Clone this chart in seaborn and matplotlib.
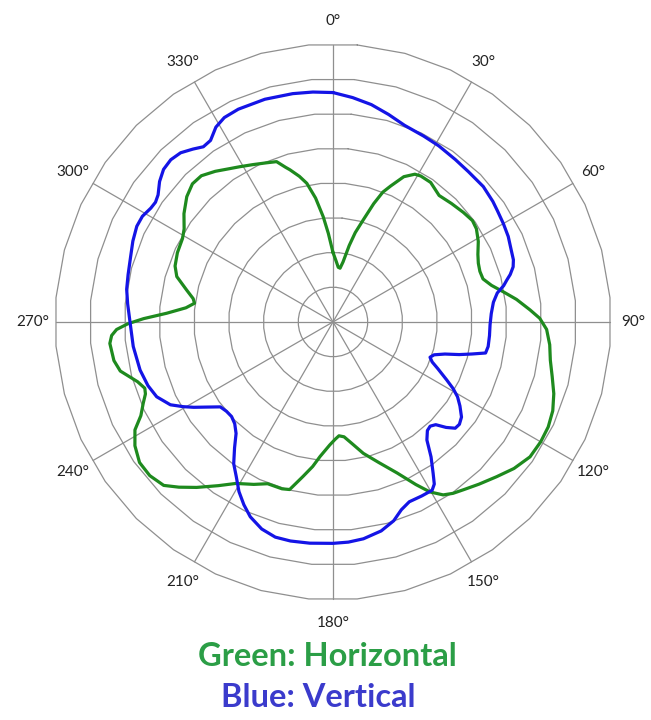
import numpy as np
import matplotlib
matplotlib.use("Agg")
import matplotlib.pyplot as plt
import seaborn as sns

# Radiation pattern: angle (deg, clockwise from top) and radius (ring units 0-8)
blue_deg = [0, 5, 10, 15, 20, 26, 31, 37, 42, 48, 53, 56, 60, 64, 68, 71, 73, 75, 76.5, 78,
            80, 83, 87, 91, 95, 99, 101.5, 103, 104.5, 106, 108, 110, 112, 114, 117, 119, 121,
            123.5, 126.5, 129, 131, 133, 135, 137, 139, 141.5, 144, 146.5, 148, 149.5, 153, 157,
            160, 163, 167, 172, 176, 180, 186, 191, 195, 199, 203, 206, 209, 212, 215, 218, 221,
            224, 227, 230, 233, 236, 238.5, 240.5, 243, 247, 251, 256, 263, 270, 275, 279, 283,
            288, 292, 296, 299, 302, 304, 306, 309, 312, 315, 318, 321, 323.5, 326, 329, 332,
            336, 343, 350, 355, 360]
blue_r = [6.60, 6.48, 6.35, 6.18, 6.02, 5.95, 5.91, 5.85, 5.82, 5.82, 5.76, 5.71, 5.66, 5.61,
          5.53, 5.49, 5.42, 5.28, 5.14, 5.02, 4.80, 4.65, 4.56, 4.52, 4.52, 4.52, 4.48, 4.10,
          3.75, 3.35, 3.06, 2.97, 3.08, 3.30, 3.67, 3.95, 4.18, 4.38, 4.60, 4.68, 4.66, 4.45,
          4.18, 4.10, 4.14, 4.34, 4.80, 5.22, 5.50, 5.62, 5.62, 5.62, 5.75, 5.98, 6.17, 6.30,
          6.35, 6.37, 6.40, 6.42, 6.41, 6.30, 6.09, 5.85, 5.58, 5.25, 4.98, 4.60, 4.25, 4.07,
          3.99, 4.00, 4.06, 4.38, 4.70, 4.95, 5.25, 5.51, 5.63, 5.72, 5.79, 5.84, 5.93, 6.01,
          6.05, 6.12, 6.21, 6.28, 6.27, 6.18, 6.16, 6.22, 6.42, 6.56, 6.60, 6.55, 6.40, 6.27,
          6.30, 6.54, 6.66, 6.70, 6.70, 6.67, 6.64, 6.60]

green_deg = [0, 3, 5.5, 7.5, 9.5, 12, 14, 16.5, 19, 21, 23, 26, 29, 31, 35, 40, 45, 50, 54, 57,
             61, 65, 68, 71, 74, 77, 80, 83, 86.5, 89, 92, 96, 100, 104, 108, 112, 116, 120,
             124.4, 129, 133.4, 138, 142, 145, 147.5, 150.3, 153, 157, 162, 167, 171, 174.5,
             177, 179, 181.5, 185.5, 188, 191, 194.5, 197, 202, 206, 211, 215, 219.5, 223, 226,
             230, 234, 238, 241.4, 244, 246.8, 249, 250.6, 253, 257, 260, 264.5, 266.5, 268,
             269.5, 271, 273, 275.5, 277.7, 279.5, 282.3, 286.2, 289.5, 294, 299, 302, 306,
             310.6, 314.5, 318, 322, 326, 329, 333, 337, 340.6, 343, 344.2, 347, 349.3, 352,
             354.7, 357, 360]
green_r = [2.00, 1.75, 1.58, 1.56, 1.75, 2.25, 2.65, 3.06, 3.60, 4.00, 4.25, 4.65, 4.86, 4.90,
           4.90, 4.75, 4.82, 4.90, 4.96, 4.92, 4.78, 4.60, 4.51, 4.47, 4.49, 4.68, 4.98, 5.32,
           5.68, 5.95, 6.15, 6.27, 6.35, 6.50, 6.68, 6.82, 6.89, 6.90, 6.87, 6.70, 6.48, 6.28,
           6.12, 6.02, 5.90, 5.63, 5.25, 4.72, 4.25, 3.88, 3.55, 3.32, 3.28, 3.38, 3.54, 3.89,
           4.20, 4.53, 4.98, 5.02, 5.02, 5.20, 5.42, 5.75, 6.17, 6.50, 6.77, 6.88, 6.88, 6.72,
           6.49, 6.15, 5.94, 5.78, 5.74, 5.88, 6.28, 6.40, 6.45, 6.38, 6.23, 5.90, 5.45, 4.79,
           4.25, 4.02, 4.08, 4.31, 4.68, 4.82, 4.90, 4.95, 5.05, 5.30, 5.54, 5.67, 5.66, 5.50,
           5.32, 5.21, 5.08, 4.97, 4.89, 4.65, 4.55, 4.30, 4.06, 3.60, 3.04, 2.55, 2.00]

ring_levels = [1, 2, 3, 4, 5, 6, 7, 8]
spoke_deg = [0, 30, 60, 90, 120, 150, 180, 210, 240, 270, 300, 330]
spoke_labels = [f"{d}°" for d in spoke_deg]

sns.set_style("white")
plt.rcParams['font.family'] = ['Lato', 'DejaVu Sans']

fig = plt.figure(figsize=(6.51, 7.20), dpi=100)
ax = fig.add_axes([0.0737, 0.157, 0.8756, 0.7917], projection='polar')
ax.set_theta_zero_location('N')
ax.set_theta_direction(-1)
ax.set_ylim(0, 8.2)
ax.grid(False)
ax.set_xticks([])
ax.set_yticks([])
ax.spines['polar'].set_visible(False)
ax.patch.set_alpha(0)

grid_col = '#8f8f8f'
# rings are 36-sided polygons in the original
poly_t = np.deg2rad(np.arange(5, 366, 10))
for lv in ring_levels:
    ax.plot(poly_t, np.full(poly_t.shape, lv), color=grid_col, lw=0.9, zorder=1, clip_on=False)
for d in spoke_deg:
    ax.plot([np.deg2rad(d)] * 2, [0, 8 * np.cos(np.deg2rad(5))], color=grid_col, lw=0.9,
            zorder=1, clip_on=False)

sns.lineplot(x=np.deg2rad(green_deg), y=green_r, ax=ax, sort=False, estimator=None,
             color='#1e8a1e', linewidth=2.3, zorder=3)
sns.lineplot(x=np.deg2rad(blue_deg), y=blue_r, ax=ax, sort=False, estimator=None,
             color='#1414e6', linewidth=2.3, zorder=4)
ax.set_xlabel('')
ax.set_ylabel('')

for d, lab in zip(spoke_deg, spoke_labels):
    ax.text(np.deg2rad(d), 8.65, lab, ha='center', va='center', fontsize=11, color='#222222')

fig.text(0.503, 0.088, "Green: Horizontal", ha='center', va='center', fontsize=23.5,
         fontweight='bold', color='#2b9e46')
fig.text(0.489, 0.031, "Blue: Vertical", ha='center', va='center', fontsize=23.5,
         fontweight='bold', color='#3b3bcc')

fig.savefig('out.png', dpi=100, facecolor='white')
